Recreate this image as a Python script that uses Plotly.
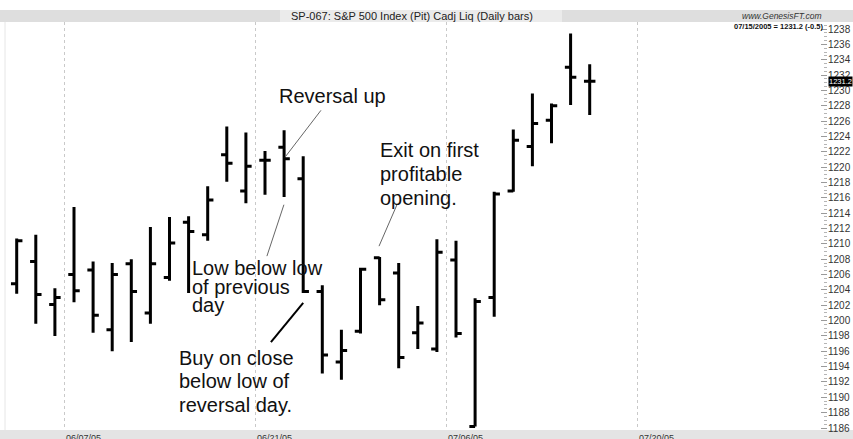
import plotly.graph_objects as go

# ---------------- data ----------------
dates = ["06/02/05", "06/03/05", "06/06/05", "06/07/05", "06/08/05", "06/09/05", "06/10/05",
         "06/13/05", "06/14/05", "06/15/05", "06/16/05", "06/17/05", "06/20/05", "06/21/05",
         "06/22/05", "06/23/05", "06/24/05", "06/27/05", "06/28/05", "06/29/05", "06/30/05",
         "07/01/05", "07/05/05", "07/06/05", "07/07/05", "07/08/05", "07/11/05", "07/12/05",
         "07/13/05", "07/14/05", "07/15/05"]
opens = [1204.8, 1207.7, 1202.1, 1206.0, 1206.6, 1198.8, 1207.4, 1201.0, 1205.6, 1212.8,
         1211.2, 1221.6, 1216.9, 1220.9, 1222.6, 1218.5, 1203.8, 1194.6, 1198.6, 1208.2,
         1206.2, 1198.4, 1196.3, 1207.9, 1186.2, 1203.0, 1216.9, 1222.7, 1226.1, 1233.0, 1231.2]
highs = [1210.7, 1211.2, 1204.2, 1214.8, 1207.7, 1207.5, 1208.0, 1212.2, 1213.5, 1213.6,
         1217.5, 1225.3, 1224.5, 1222.1, 1224.8, 1221.4, 1204.6, 1198.8, 1206.9, 1208.3,
         1207.5, 1201.9, 1210.6, 1210.4, 1202.9, 1216.8, 1224.9, 1229.6, 1228.3, 1237.4, 1233.4]
lows = [1203.5, 1199.6, 1198.0, 1202.4, 1198.4, 1196.0, 1197.2, 1199.6, 1205.2, 1203.6,
        1210.4, 1218.1, 1215.3, 1216.4, 1216.1, 1203.6, 1193.1, 1192.3, 1198.3, 1202.0,
        1193.8, 1196.3, 1195.9, 1197.8, 1186.2, 1200.5, 1216.8, 1220.1, 1223.1, 1228.1, 1226.8]
closes = [1210.4, 1203.4, 1203.0, 1203.9, 1200.7, 1206.0, 1203.8, 1207.4, 1210.1, 1211.6,
          1215.7, 1220.5, 1220.1, 1220.9, 1221.1, 1203.8, 1195.5, 1196.1, 1206.7, 1202.7,
          1195.2, 1199.7, 1208.9, 1198.3, 1202.5, 1216.5, 1223.5, 1225.7, 1228.0, 1231.7, 1231.2]

grid_labels = ["06/07/05", "06/21/05", "07/06/05", "07/20/05"]
grid_index = [3, 13, 23, 33]          # trading-day index of each labelled date

y_ticks = list(range(1186, 1239, 2))
last_price = 1231.2
title_text = "SP-067: S&P 500 Index (Pit) Cadj Liq (Daily bars)"
site_text = "www.GenesisFT.com"
status_text = "07/15/2005 = 1231.2 (-0.5)"

# annotation texts (one entry per line) and their anchor points (bar index, price)
notes = [
    (["Reversal up"], 13.63, [1229.3]),
    (["Exit on first", "profitable", "opening."], 18.92, [1222.2, 1219.1, 1216.0]),
    (["Low below low", "of previous", "day"], 9.07, [1206.85, 1204.4, 1202.0]),
    (["Buy on close", "below low of", "reversal day."], 8.40, [1195.1, 1192.1, 1189.0]),
]
# pointer lines: (x0, y0, x1, y1, colour, width)
pointers = [
    (15.93, 1227.4, 14.05, 1221.3, "#666666", 1),
    (19.91, 1215.1, 18.97, 1209.7, "#666666", 1),
    (13.99, 1215.1, 13.10, 1208.4, "#666666", 1),
    (15.00, 1202.3, 13.31, 1197.2, "#000000", 2),
]

# ---------------- figure ----------------
W, H = 853, 439
ML, MR, MT, MB = 0, 26, 22, 9
PW, PH = W - ML - MR, H - MT - MB
FONT = "Liberation Sans, Arial, Helvetica, sans-serif"

x = list(range(len(dates)))

fig = go.Figure(go.Ohlc(
    x=x, open=opens, high=highs, low=lows, close=closes,
    text=dates, hoverinfo="text+y",
    increasing=dict(line=dict(color="black", width=3)),
    decreasing=dict(line=dict(color="black", width=3)),
    tickwidth=0.3, showlegend=False,
))

def px_x(p):
    return p / PW

def px_y(p):
    return (H - MB - p) / PH

shapes = [
    # top grey band
    dict(type="rect", xref="paper", yref="paper", x0=px_x(0), x1=px_x(W), y0=px_y(22), y1=px_y(10),
         fillcolor="#dedede", line=dict(width=0), layer="below"),
    dict(type="rect", xref="paper", yref="paper", x0=px_x(280), x1=px_x(562), y0=px_y(22), y1=px_y(10),
         fillcolor="#ebebeb", line=dict(width=0), layer="below"),
    # bottom grey band
    dict(type="rect", xref="paper", yref="paper", x0=px_x(0), x1=px_x(W), y0=px_y(H), y1=px_y(430),
         fillcolor="#e4e4e4", line=dict(width=0), layer="below"),
    # faint left border
    dict(type="line", xref="paper", yref="paper", x0=px_x(5), x1=px_x(5), y0=0, y1=1,
         line=dict(color="#e6e6e6", width=1)),
]
for x0, y0, x1, y1, c, w in pointers:
    shapes.append(dict(type="line", xref="x", yref="y", x0=x0, y0=y0, x1=x1, y1=y1,
                       line=dict(color=c, width=w)))

annotations = [
    dict(text=title_text, xref="paper", yref="paper", x=px_x(412), y=px_y(16),
         xanchor="center", yanchor="middle", showarrow=False,
         font=dict(family=FONT, size=11, color="#222")),
    dict(text="<i>" + site_text + "</i>", xref="paper", yref="paper", x=px_x(824), y=px_y(15.5),
         xanchor="right", yanchor="middle", showarrow=False,
         font=dict(family=FONT, size=8.5, color="#333")),
    dict(text="<b>" + status_text + "</b>", xref="paper", yref="paper", x=px_x(826), y=px_y(27),
         xanchor="right", yanchor="middle", showarrow=False,
         font=dict(family=FONT, size=7.5, color="#111")),
    dict(text=f"{last_price:.1f}", xref="paper", yref="y", x=1, y=last_price,
         xanchor="left", yanchor="middle", xshift=1, showarrow=False,
         bgcolor="black", borderpad=0,
         font=dict(family=FONT, size=7.5, color="white")),
]
for lab, gi in zip(grid_labels, grid_index):
    annotations.append(dict(text=lab, xref="x", yref="paper", x=gi - 0.5, y=0,
                            xanchor="left", yanchor="top", yshift=-1, showarrow=False,
                            font=dict(family=FONT, size=9, color="#333")))
for lines, nx, ys in notes:
    for t, ny in zip(lines, ys):
        annotations.append(dict(text=t, xref="x", yref="y", x=nx, y=ny,
                                xanchor="left", yanchor="middle", showarrow=False,
                                font=dict(family=FONT, size=20, color="#111")))

x_lo = -16.7 / 19.1
x_hi = (PW - 16.7) / 19.1
y_hi = 1238 + (29 - MT) / 7.673
y_lo = 1186 - (H - MB - 428) / 7.673

fig.update_layout(
    width=W, height=H,
    margin=dict(l=ML, r=MR, t=MT, b=MB, pad=0),
    paper_bgcolor="white", plot_bgcolor="white",
    font=dict(family=FONT, color="#333"),
    shapes=shapes, annotations=annotations,
    xaxis=dict(range=[x_lo, x_hi], rangeslider=dict(visible=False),
               tickmode="array", tickvals=[g - 0.5 for g in grid_index],
               showticklabels=False, ticks="",
               showgrid=True, gridcolor="#c9c9c9", griddash="dot", gridwidth=1,
               zeroline=False, showline=False, fixedrange=True),
    yaxis=dict(range=[y_lo, y_hi], side="right",
               tickmode="array", tickvals=y_ticks, ticktext=[str(v) for v in y_ticks],
               ticks="inside", ticklen=6, tickcolor="#9a9a9a", tickwidth=1,
               minor=dict(dtick=0.5, ticks="inside", ticklen=3, tickcolor="#b5b5b5", showgrid=False),
               tickfont=dict(family=FONT, size=10, color="#333"),
               showgrid=False, zeroline=False, showline=False, fixedrange=True),
    hovermode="closest",
)

fig.write_html("out.html", config={"displayModeBar": False},
               post_script="document.body.style.margin='0';document.body.style.overflow='hidden';")
